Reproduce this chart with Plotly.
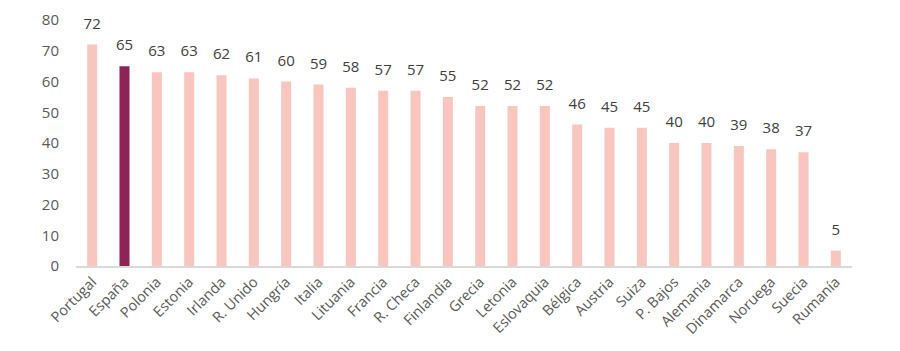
import plotly.graph_objects as go

countries = ["Portugal", "España", "Polonia", "Estonia", "Irlanda", "R. Unido", "Hungría",
             "Italia", "Lituania", "Francia", "R. Checa", "Finlandia", "Grecia", "Letonia",
             "Eslovaquia", "Bélgica", "Austria", "Suiza", "P. Bajos", "Alemania",
             "Dinamarca", "Noruega", "Suecia", "Rumanía"]
values = [72, 65, 63, 63, 62, 61, 60, 59, 58, 57, 57, 55, 52, 52, 52, 46, 45, 45, 40, 40,
          39, 38, 37, 5]
highlight = "España"
y_ticks = [0, 10, 20, 30, 40, 50, 60, 70, 80]

pale = "#f9c6bf"
dark = "#8e2358"
colors = [dark if c == highlight else pale for c in countries]

fig = go.Figure()
fig.add_trace(go.Bar(x=countries, y=values, marker=dict(color=colors, line=dict(width=0)),
                     hoverinfo="skip", showlegend=False))
fig.add_trace(go.Scatter(x=countries, y=values, mode="markers+text",
                         text=[str(v) for v in values], textposition="top center",
                         marker=dict(size=18, opacity=0),
                         textfont=dict(family="Open Sans", size=15, color="#404040"),
                         cliponaxis=False, showlegend=False, hoverinfo="skip"))

fig.update_layout(
    width=900, height=351,
    margin=dict(l=76, r=48, t=20, b=85),
    paper_bgcolor="white", plot_bgcolor="white",
    bargap=0.69,
    font=dict(family="Open Sans", color="#595959"),
)
fig.update_yaxes(range=[0, 80], tickvals=y_ticks, showgrid=False, zeroline=False,
                 showline=False, tickfont=dict(size=15, color="#595959"),
                 ticklabelstandoff=16, automargin=False)
fig.update_xaxes(range=[-0.5, len(countries) - 0.5], tickangle=-45, showgrid=False,
                 showline=True, linecolor="#d9d9d9", linewidth=1.5,
                 tickfont=dict(size=14.5, color="#595959"), automargin=False)

fig.write_html("out.html")
